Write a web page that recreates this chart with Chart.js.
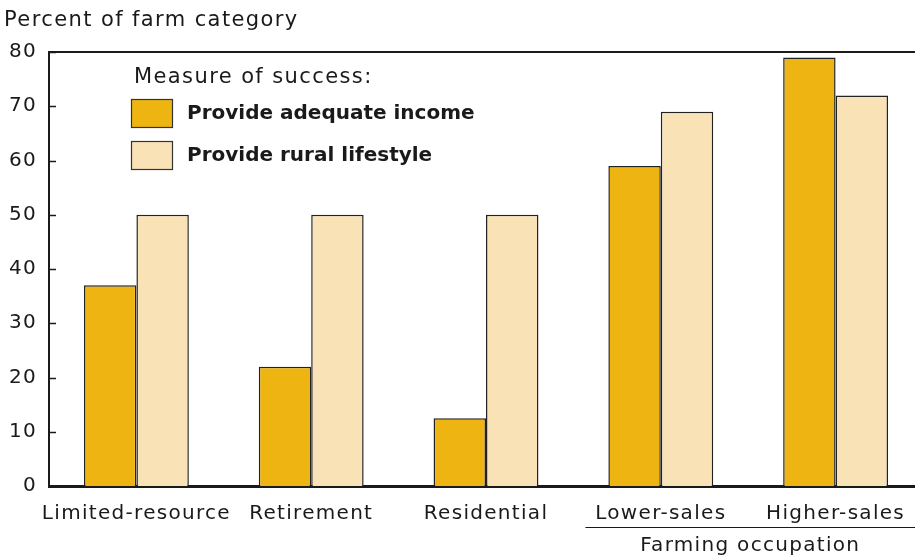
<!DOCTYPE html>
<html>
<head>
<meta charset="utf-8">
<script src="https://cdn.jsdelivr.net/npm/chart.js@4/dist/chart.umd.min.js"></script>
<style>
  html, body { margin: 0; padding: 0; background: #fff; overflow: hidden; }
  #wrap { width: 923px; height: 556px; position: relative; }
</style>
</head>
<body>
<div id="wrap"><canvas id="chart"></canvas></div>
<script>
// farm categories and the share of each that reports the goal as met
const categories = ['Limited-resource', 'Retirement', 'Residential', 'Lower-sales', 'Higher-sales'];
const incomeShare = [37, 22, 12.5, 59, 79];
const lifestyleShare = [50, 50, 50, 69, 72];
const yMin = 0, yMax = 80, yStep = 10;

const seriesNames = ['Provide adequate income', 'Provide rural lifestyle'];
const legendTitle = 'Measure of success:';
const axisTitle = 'Percent of farm category';
const groupName = 'Farming occupation';
const groupMembers = ['Lower-sales', 'Higher-sales'];

const GOLD = '#EDB412';
const CREAM = '#F9E2B6';
const INK = '#1a1a1a';
const LABEL_FONT = '"DejaVu Sans", sans-serif';
const BOLD_FONT = '"DejaVu Sans", sans-serif';

// looser tracking for the axis tick labels
const trackingPlugin = {
  id: 'tracking',
  beforeDraw(chart) { chart.ctx.letterSpacing = '1.3px'; }
};

// top frame line + inward tick marks on the value axis
const framePlugin = {
  id: 'frame',
  afterDraw(chart) {
    const { ctx, chartArea } = chart;
    const y = chart.scales.y;
    ctx.save();
    ctx.strokeStyle = INK;
    ctx.lineWidth = 2;
    ctx.beginPath();
    ctx.moveTo(chartArea.left - 1, chartArea.top);
    ctx.lineTo(chartArea.right, chartArea.top);
    ctx.stroke();
    ctx.lineWidth = 1.5;
    y.ticks.forEach(t => {
      const py = Math.round(y.getPixelForValue(t.value)) + 0.5;
      ctx.beginPath();
      ctx.moveTo(chartArea.left, py);
      ctx.lineTo(chartArea.left + 7, py);
      ctx.stroke();
    });
    ctx.restore();
  }
};

// axis caption, boxed legend and the group bracket under the x labels
const annotationPlugin = {
  id: 'annotations',
  afterDraw(chart) {
    const { ctx } = chart;
    const x = chart.scales.x;
    ctx.save();
    ctx.fillStyle = INK;
    ctx.textBaseline = 'middle';
    ctx.textAlign = 'left';
    ctx.font = '21px ' + LABEL_FONT;
    ctx.letterSpacing = '1.4px';
    ctx.fillText(axisTitle, 4, 21);
    ctx.fillText(legendTitle, 134, 78);

    ctx.letterSpacing = '0px';
    ctx.font = 'bold 20px ' + BOLD_FONT;
    chart.data.datasets.forEach((ds, i) => {
      const top = 99 + i * 42;
      ctx.fillStyle = ds.backgroundColor;
      ctx.fillRect(131, top, 41, 28);
      ctx.strokeStyle = '#333';
      ctx.lineWidth = 1.2;
      ctx.strokeRect(131.5, top + 0.5, 41, 28);
      ctx.fillStyle = INK;
      ctx.fillText(ds.label, 187, top + 15);
    });

    const first = categories.indexOf(groupMembers[0]);
    const last = categories.indexOf(groupMembers[groupMembers.length - 1]);
    const half = (x.getPixelForValue(1) - x.getPixelForValue(0)) / 2;
    const x0 = x.getPixelForValue(first) - half + 12;
    const x1 = x.getPixelForValue(last) + half;
    ctx.strokeStyle = INK;
    ctx.lineWidth = 1;
    ctx.beginPath();
    ctx.moveTo(x0, 527.5);
    ctx.lineTo(x1, 527.5);
    ctx.stroke();
    ctx.textAlign = 'center';
    ctx.letterSpacing = '1.3px';
    ctx.font = '20px ' + LABEL_FONT;
    ctx.fillText(groupName, (x.getPixelForValue(first) + x.getPixelForValue(last)) / 2 + 2, 546);
    ctx.restore();
  }
};

new Chart(document.getElementById('chart'), {
  type: 'bar',
  data: {
    labels: categories,
    datasets: [
      { label: seriesNames[0], data: incomeShare, backgroundColor: GOLD },
      { label: seriesNames[1], data: lifestyleShare, backgroundColor: CREAM }
    ]
  },
  options: {
    responsive: true,
    maintainAspectRatio: false,
    animation: false,
    layout: { padding: { top: 52, right: 0, left: 0, bottom: 0 } },
    datasets: {
      bar: {
        categoryPercentage: 0.6,
        barPercentage: 1,
        borderColor: '#222',
        borderWidth: 1.5
      }
    },
    plugins: {
      legend: { display: false },
      tooltip: { enabled: false }
    },
    scales: {
      x: {
        grid: { display: false, drawTicks: false },
        border: { display: true, color: INK, width: 3 },
        ticks: {
          color: INK, padding: 16, autoSkip: false, maxRotation: 0, minRotation: 0,
          font: { family: LABEL_FONT, size: 20 }
        },
        afterFit(scale) {
          scale.height = 70;
          scale.paddingLeft = 0;
          scale.paddingRight = 0;
        }
      },
      y: {
        min: yMin,
        max: yMax,
        grid: { display: false, drawTicks: false },
        border: { display: true, color: INK, width: 2 },
        ticks: { stepSize: yStep, color: INK, padding: 12, font: { family: LABEL_FONT, size: 20 } },
        afterFit(scale) { scale.width = 49; }
      }
    }
  },
  plugins: [trackingPlugin, framePlugin, annotationPlugin]
});
</script>
</body>
</html>
